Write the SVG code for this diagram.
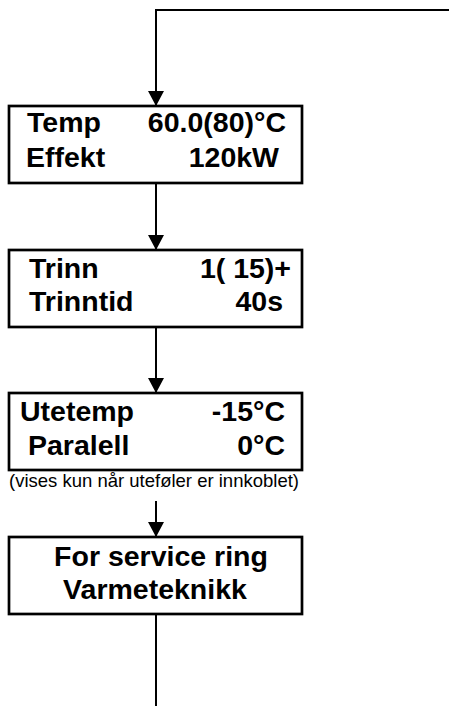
<svg xmlns="http://www.w3.org/2000/svg" width="449" height="706" viewBox="0 0 449 706">
<style>
.box{fill:#fff;stroke:#000;stroke-width:2.7}
.t{font-family:"Liberation Sans",Arial,sans-serif;font-weight:bold;font-size:28.5px;fill:#000}
.c{font-family:"Liberation Sans",Arial,sans-serif;font-size:18.5px;fill:#000}
.ln{fill:none;stroke:#000;stroke-width:2}
</style>
<defs>
<marker id="ah" markerWidth="16" markerHeight="16" refX="15" refY="8" orient="auto" markerUnits="userSpaceOnUse" viewBox="0 0 16 16">
<path d="M0,0 L15,8 L0,16 Z" fill="#000"/>
</marker>
</defs>
<g id="connectors">
<path class="ln" d="M449,10 H156 V106" marker-end="url(#ah)"/>
<path class="ln" d="M156,183 V250" marker-end="url(#ah)"/>
<path class="ln" d="M156,327 V393" marker-end="url(#ah)"/>
<path class="ln" d="M156,501 V537" marker-end="url(#ah)"/>
<path class="ln" d="M156,614 V706"/>
</g>
<g id="node1">
<rect class="box" x="9" y="106" width="293" height="77"/>
<text class="t" x="27" y="132">Temp</text>
<text class="t" x="286" y="132" text-anchor="end">60.0(80)°C</text>
<text class="t" x="26" y="167">Effekt</text>
<text class="t" x="279" y="167" text-anchor="end">120kW</text>
</g>
<g id="node2">
<rect class="box" x="9" y="250" width="293" height="77"/>
<text class="t" x="29" y="278">Trinn</text>
<text class="t" x="291" y="278" text-anchor="end">1( 15)+</text>
<text class="t" x="29" y="311">Trinntid</text>
<text class="t" x="283" y="311" text-anchor="end">40s</text>
</g>
<g id="node3">
<rect class="box" x="9" y="393" width="293" height="77"/>
<text class="t" x="20" y="421">Utetemp</text>
<text class="t" x="285" y="421" text-anchor="end">-15°C</text>
<text class="t" x="28" y="455">Paralell</text>
<text class="t" x="285" y="455" text-anchor="end">0°C</text>
</g>
<text class="c" x="154" y="487" text-anchor="middle">(vises kun når uteføler er innkoblet)</text>
<g id="node4">
<rect class="box" x="9" y="537" width="293" height="77"/>
<text class="t" x="161" y="566" text-anchor="middle">For service ring</text>
<text class="t" x="155" y="599" text-anchor="middle">Varmeteknikk</text>
</g>
</svg>
